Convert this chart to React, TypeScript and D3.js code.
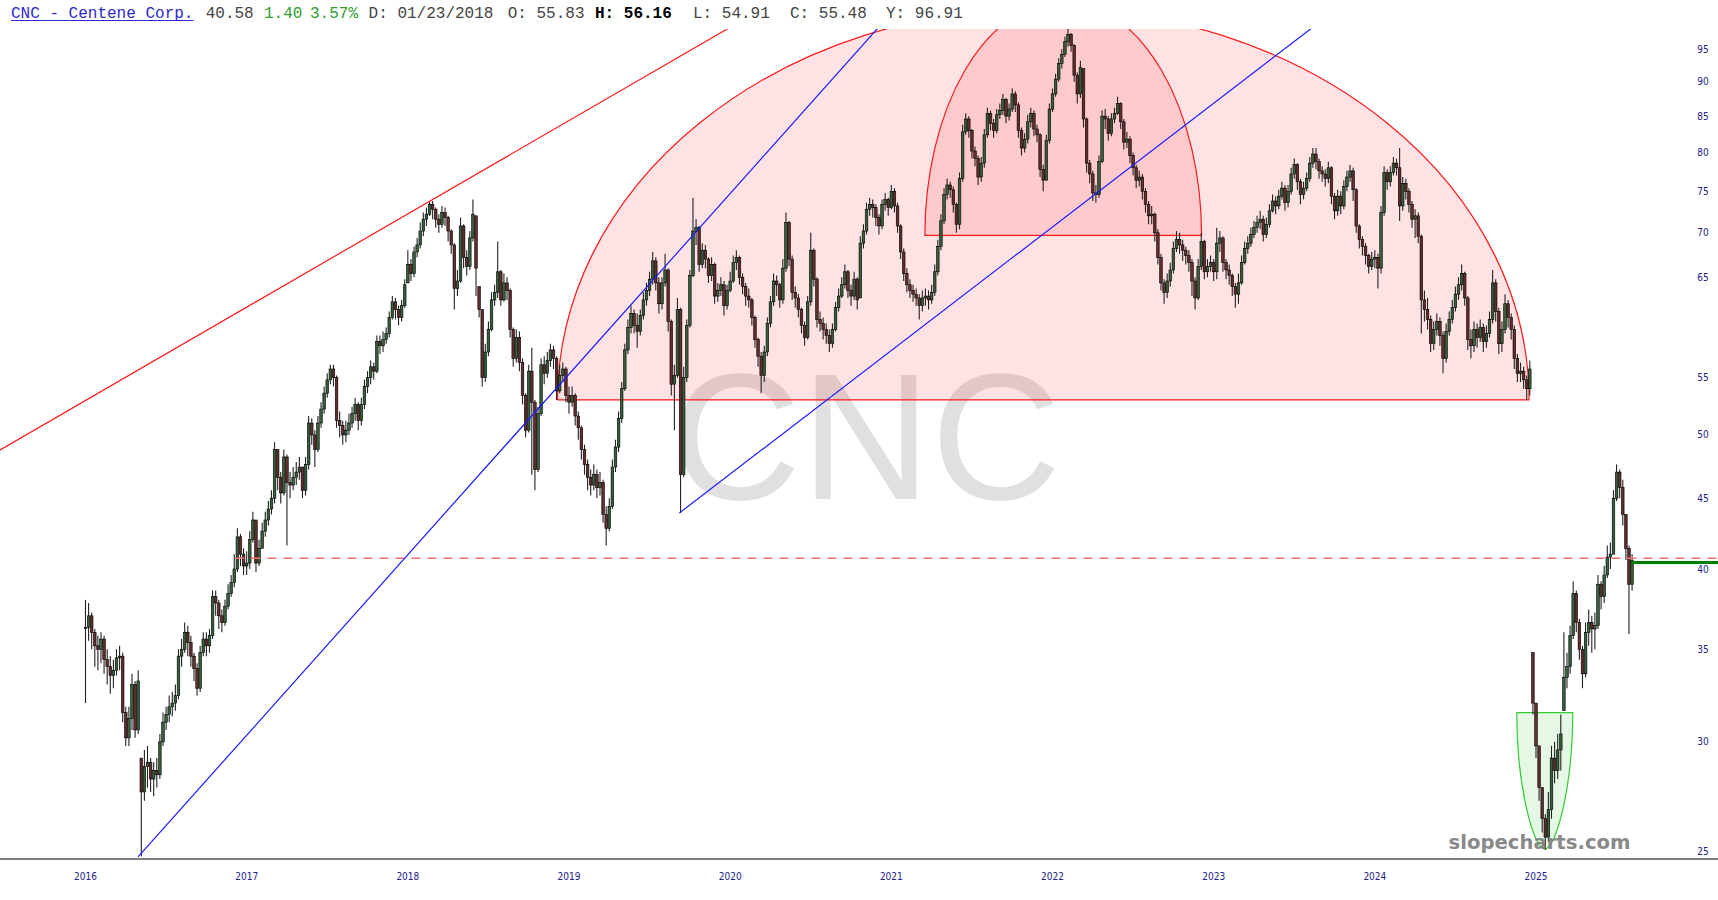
import React from 'react';
import * as d3 from 'd3';

// ---------- DATA (weekly bars: [high, low, close]) ----------
type Bar = [number, number, number];

const Y2016: Bar[] = [
  [38.0,32.0,36.3],[37.8,35.5,37.0],[37.2,35.0,36.0],[36.2,34.0,35.2],[35.8,33.8,35.0],[36.0,34.2,35.6],[35.8,33.6,34.4],[35.0,33.0,34.0],[34.6,32.5,33.5],[34.4,32.8,33.8],
  [35.0,33.5,34.5],[35.2,33.8,34.6],[34.8,31.0,31.5],[31.8,29.8,30.2],[31.8,29.8,31.2],[33.6,30.6,33.0],[33.2,30.2,30.6],[33.8,30.4,33.2],[29.2,24.8,27.6],[29.6,27.2,28.8],
  [29.8,27.8,29.0],[29.2,27.6,28.2],[29.0,27.4,28.6],[29.2,27.8,28.4],[30.4,28.2,30.0],[31.5,29.8,31.0],[31.8,30.6,31.4],[32.4,31.0,31.8],[32.6,31.3,32.0],[33.0,31.6,32.4],
  [35.0,32.2,34.6],[35.6,34.0,35.0],[36.6,34.8,36.0],[36.4,34.6,35.4],[35.8,34.0,34.6],[34.8,33.2,33.9],[34.2,32.4,32.8],[35.2,32.6,34.8],[36.0,34.6,35.6],[36.0,34.6,35.2],
  [36.2,34.8,35.8],[38.6,35.6,38.2],[38.6,37.0,37.8],[38.0,36.2,37.0],[37.4,36.0,36.6],[38.0,36.4,37.6],[39.0,37.4,38.4],[39.6,38.2,39.1],[41.0,38.8,40.0],[42.8,39.8,42.2],
  [42.4,40.2,41.0],[41.4,39.6,40.2],
];
const Y2017: Bar[] = [
  [41.2,39.6,40.4],[42.6,40.0,42.0],[44.0,41.8,43.4],[43.4,39.8,40.4],[42.0,40.2,41.4],[43.2,41.4,42.6],[44.0,42.2,43.4],[44.8,43.0,44.2],[45.6,43.8,45.0],[49.4,44.6,48.8],
  [48.8,45.6,46.6],[47.0,44.6,45.4],[48.8,45.2,48.2],[48.4,41.6,46.2],[47.0,45.0,46.0],[47.4,45.6,46.6],[47.8,46.0,47.0],[48.2,46.4,47.4],[47.4,45.0,45.6],[48.2,45.2,47.6],
  [51.6,47.2,51.0],[51.4,49.2,50.0],[50.4,47.4,48.8],[51.6,48.6,51.0],[52.8,50.6,52.2],[54.2,51.8,53.6],[55.4,53.2,54.8],[56.2,54.4,55.8],[56.2,54.2,55.0],[55.2,50.6,51.2],
  [52.0,49.8,50.8],[51.2,49.2,50.0],[51.2,49.4,50.4],[51.8,50.0,51.0],[52.4,50.6,51.8],[53.2,51.2,52.6],[52.8,50.4,51.2],[53.2,50.8,52.6],[54.8,52.2,54.2],[55.6,53.6,55.0],
  [56.6,54.4,56.0],[56.4,54.8,55.6],[59.0,55.4,58.4],[59.0,57.2,58.0],[59.4,57.4,58.6],[59.8,58.2,59.2],[61.4,58.8,60.8],[63.0,60.6,62.4],[62.8,60.6,61.6],[62.0,60.0,60.8],
  [62.6,60.4,62.0],[64.8,61.8,64.2],
];
const Y2018: Bar[] = [
  [68.0,64.4,66.4],[67.0,64.6,65.4],[68.4,65.0,67.8],[69.4,67.2,68.6],[71.2,68.2,70.2],[72.4,69.6,71.6],[73.0,70.8,72.2],[73.8,72.0,73.4],[73.8,71.6,72.8],[73.0,70.6,71.6],
  [72.2,70.0,71.0],[73.2,70.6,72.4],[73.0,70.8,71.8],[72.0,69.0,70.2],[70.4,67.6,68.6],[68.8,61.6,63.8],[65.8,63.0,64.6],[71.8,64.4,70.8],[71.0,66.0,67.2],[68.0,65.2,66.2],
  [70.2,65.8,69.4],[74.0,69.0,72.2],[72.0,63.0,66.0],[64.0,60.8,61.6],[61.6,54.2,55.0],[58.2,54.6,57.4],[60.4,57.0,59.6],[63.4,59.4,62.6],[64.2,62.0,63.4],[69.0,62.8,65.6],
  [65.8,62.0,62.6],[65.4,62.4,64.4],[65.0,62.6,63.6],[63.8,58.8,59.6],[59.8,56.0,56.8],[59.6,56.4,58.8],[59.4,55.6,56.4],[56.8,52.6,53.4],[53.6,49.8,50.4],[56.2,50.2,55.6],
  [57.8,46.8,52.8],[53.0,45.6,47.2],[52.4,47.0,51.8],[56.8,51.6,56.2],[57.0,54.4,55.4],[57.4,55.0,56.6],[58.2,56.0,57.6],[58.0,55.8,56.8],[57.0,53.0,53.8],[56.2,53.6,55.2],
  [56.4,54.6,55.8],[56.0,52.8,53.4],
];
const Y2019: Bar[] = [
  [54.2,51.8,52.8],[54.2,52.4,53.4],[53.6,50.8,51.6],[52.0,49.6,50.6],[50.8,48.0,48.8],[49.2,46.8,47.6],[48.0,45.6,46.6],[47.2,45.2,46.0],[47.6,45.6,46.8],[47.2,45.0,45.8],
  [47.0,45.2,46.2],[46.4,43.2,43.8],[44.4,41.6,42.8],[45.0,42.6,44.4],[48.0,44.2,47.4],[49.6,47.0,49.0],[52.0,48.6,51.4],[54.6,51.0,54.0],[58.2,53.8,57.6],[60.6,57.2,59.8],
  [62.0,59.2,61.2],[61.6,59.2,60.0],[61.2,57.8,59.4],[61.6,59.0,61.0],[63.4,60.6,62.6],[64.4,62.0,63.6],[65.6,63.0,64.8],[67.8,64.2,66.8],[67.2,63.6,64.4],[65.0,61.2,62.2],
  [65.0,61.6,64.4],[67.6,64.0,65.8],[66.0,59.4,60.4],[60.6,53.4,54.4],[56.2,50.4,55.2],[62.8,55.0,61.6],[61.8,43.9,46.8],[56.0,46.6,55.0],[60.6,54.6,60.0],[65.8,59.8,65.2],
  [74.2,65.0,70.2],[71.6,68.6,70.6],[70.8,65.6,66.4],[68.8,66.0,68.0],[68.6,66.0,67.0],[67.2,64.4,65.2],[67.2,64.6,66.4],[66.6,62.2,63.0],[64.4,62.4,63.6],[65.0,63.0,64.2],
  [64.6,61.0,62.0],[64.2,61.6,63.6],
];
const Y2020: Bar[] = [
  [65.6,63.4,64.6],[67.4,64.4,66.6],[68.0,65.8,67.2],[67.4,64.2,65.0],[65.4,63.2,64.0],[64.4,62.0,63.0],[63.8,61.8,62.6],[62.8,60.0,60.8],[61.0,57.8,58.6],[58.8,56.0,57.0],
  [57.4,53.6,55.2],[58.0,54.6,57.4],[60.8,57.0,60.2],[63.0,59.8,62.4],[65.4,62.0,64.6],[65.2,63.0,64.2],[64.4,61.8,62.6],[67.0,62.2,66.0],[72.4,65.6,71.2],[71.4,66.2,67.0],
  [67.4,62.6,63.4],[64.0,61.8,62.8],[63.2,60.8,61.6],[61.8,59.2,60.0],[60.4,58.0,58.8],[63.0,58.6,62.4],[70.0,62.0,68.0],[68.2,64.0,64.8],[65.0,59.8,60.6],[61.4,59.4,60.2],
  [60.8,58.6,59.6],[60.2,58.2,59.0],[59.6,57.4,58.2],[60.2,57.8,59.6],[62.4,59.4,61.8],[63.8,61.4,63.0],[65.0,62.8,64.2],[66.4,63.8,65.6],[65.8,62.8,63.6],[64.2,62.0,63.0],
  [65.6,62.6,64.8],[65.0,61.6,62.6],[69.6,62.8,68.8],[71.0,68.2,70.2],[73.6,69.8,72.8],[74.2,72.0,73.4],[74.0,71.8,73.0],[73.4,70.8,71.8],[72.2,69.8,70.8],[74.0,70.4,73.4],
  [74.8,72.6,74.0],[74.2,72.0,73.0],
];
const Y2021: Bar[] = [
  [75.8,72.8,75.0],[75.4,72.4,73.2],[73.6,70.0,70.8],[71.0,67.0,67.8],[68.2,64.6,65.4],[66.0,63.4,64.2],[64.8,62.8,63.6],[64.2,62.4,63.2],[63.8,62.0,62.8],[63.2,60.6,62.0],
  [63.6,61.4,62.8],[63.8,62.0,63.0],[63.6,61.6,62.6],[64.2,62.2,63.4],[66.4,63.0,65.6],[69.2,65.2,68.4],[72.2,68.0,71.4],[75.4,71.0,74.6],[76.6,74.0,75.8],[76.2,74.2,75.2],
  [75.6,72.4,73.4],[73.6,70.0,71.0],[77.4,70.4,76.6],[83.8,76.2,82.8],[85.4,82.4,84.6],[85.0,82.0,83.0],[83.2,79.2,80.2],[80.8,78.2,79.2],[79.6,75.8,76.8],[79.4,76.2,78.6],
  [83.2,78.0,82.4],[86.2,82.0,85.4],[85.8,83.0,84.0],[84.6,82.0,83.0],[86.0,82.6,85.2],[86.8,84.6,85.8],[88.2,85.2,87.4],[87.6,84.0,85.0],[86.8,84.4,86.0],[89.0,85.6,88.2],
  [88.6,85.6,86.6],[87.0,82.0,83.0],[83.4,79.6,80.6],[82.6,80.0,81.8],[85.2,81.2,84.2],[86.2,83.4,85.4],[85.8,82.2,83.2],[83.8,81.4,82.4],[82.6,76.8,77.8],[78.4,75.0,76.4],
  [82.4,76.4,81.6],[86.8,81.2,86.0],
];
const Y2022: Bar[] = [
  [89.0,85.6,88.2],[91.2,87.8,90.4],[93.6,90.0,92.8],[95.0,92.0,94.2],[97.0,93.8,96.2],[98.6,95.4,97.4],[97.6,94.6,95.6],[95.8,90.0,91.0],[91.4,86.8,88.2],[93.2,87.6,92.2],
  [92.0,83.4,84.6],[84.8,77.4,78.6],[79.0,76.0,77.2],[77.6,73.8,74.8],[75.8,73.6,74.6],[79.6,74.2,78.8],[85.8,78.6,85.0],[86.0,83.2,84.6],[85.0,81.6,82.6],[85.4,82.2,84.6],
  [86.2,84.0,85.4],[87.8,85.2,86.8],[87.0,83.2,84.2],[84.6,80.4,81.4],[82.8,80.6,81.8],[82.2,78.6,79.6],[80.0,77.0,78.0],[78.4,75.4,76.4],[77.6,75.6,76.8],[77.2,74.0,75.0],
  [75.4,72.4,73.4],[73.8,71.0,72.0],[73.2,71.0,72.2],[72.4,69.0,70.0],[70.4,66.4,67.2],[67.6,63.6,64.4],[64.8,62.2,63.4],[65.4,62.8,64.6],[66.6,64.0,65.8],[69.0,65.4,68.2],
  [70.2,67.8,69.2],[70.0,67.6,68.6],[69.2,66.8,68.0],[68.4,66.4,67.4],[68.0,65.6,66.6],[67.0,63.0,64.6],[65.0,61.6,62.8],[67.0,62.6,66.2],[70.0,65.8,69.0],[69.2,64.8,65.6],
  [67.0,65.0,66.2],[67.4,65.6,66.6],
];
const Y2023: Bar[] = [
  [67.0,64.6,65.6],[70.6,64.8,68.8],[70.2,67.8,69.4],[69.6,65.6,66.6],[67.0,64.8,65.8],[66.4,64.2,65.2],[65.4,63.0,64.0],[64.4,61.8,63.2],[65.4,62.2,64.4],[67.4,64.2,66.6],
  [69.0,66.4,68.2],[69.6,67.6,68.8],[70.6,68.4,69.8],[71.4,69.4,70.6],[72.0,70.0,71.2],[72.6,70.4,71.6],[72.0,69.0,69.8],[71.8,69.4,71.0],[73.4,70.6,72.6],[74.6,72.4,73.8],
  [74.4,72.2,73.2],[75.2,72.8,74.4],[76.2,74.0,75.4],[75.8,72.6,73.6],[75.8,73.0,75.0],[78.0,74.6,77.2],[79.2,76.6,78.4],[78.6,75.2,76.2],[76.6,73.4,74.6],[76.2,74.0,75.4],
  [77.4,75.0,76.6],[79.4,76.2,78.6],[80.6,78.0,79.8],[80.6,77.8,78.8],[79.2,76.6,77.6],[78.2,76.2,77.2],[77.8,75.6,76.6],[78.8,76.0,78.0],[78.2,73.4,74.4],[74.8,71.6,72.6],
  [75.2,72.0,74.4],[75.0,72.2,73.2],[76.4,72.8,75.6],[77.6,75.0,76.8],[78.4,76.2,77.6],[78.0,73.8,75.2],[75.4,70.0,70.8],[71.0,68.2,69.2],[69.6,67.4,68.4],[68.8,66.4,67.4],
  [67.6,65.4,66.2],[67.8,65.8,67.0],
];
const Y2024: Bar[] = [
  [68.0,66.0,67.2],[67.6,63.8,66.0],[73.2,65.4,72.4],[78.2,72.0,77.4],[77.8,75.2,76.2],[78.2,75.6,77.4],[79.4,77.0,78.6],[79.2,77.0,78.0],[80.6,71.4,73.2],[76.8,72.6,76.0],
  [76.6,74.0,75.0],[75.4,72.4,73.4],[73.8,70.6,71.6],[72.8,69.4,72.0],[72.4,68.8,69.6],[69.8,59.2,62.6],[63.6,60.4,61.6],[62.8,59.6,60.6],[61.0,57.4,58.2],[60.4,57.6,59.6],
  [61.2,59.0,60.4],[60.8,58.0,59.0],[59.4,55.4,56.8],[60.2,56.4,59.4],[61.4,59.0,60.6],[62.6,60.2,61.8],[64.0,61.4,63.2],[65.0,62.6,64.2],[66.4,63.6,65.4],[65.6,62.0,62.8],
  [63.0,57.6,58.6],[59.6,56.8,58.0],[60.4,57.4,59.6],[60.2,57.8,58.8],[60.6,58.4,59.8],[60.2,57.4,58.4],[60.0,57.8,59.2],[61.4,58.8,60.6],[65.8,60.2,64.4],[64.8,60.4,61.4],
  [61.8,57.2,58.2],[60.4,57.4,59.6],[63.2,59.2,62.2],[62.6,59.8,60.8],[61.2,58.6,59.6],[60.0,55.8,56.8],[57.2,54.6,55.4],[56.4,54.6,55.6],[56.0,54.0,54.8],[55.2,53.0,54.0],
  [56.6,53.4,55.8],[34.8,31.4,32.0],
];
const Y2025: Bar[] = [
  [32.0,29.2,29.8],[29.8,27.2,27.8],[27.8,25.8,26.4],[26.6,25.06,25.6],[27.6,25.4,26.8],[29.8,26.4,29.2],[30.0,28.0,28.6],[30.4,28.2,29.6],[31.4,28.6,30.4],[36.0,31.6,33.4],
  [34.8,32.8,34.0],[36.4,33.6,35.8],[39.2,35.6,38.4],[38.6,36.0,36.6],[36.8,34.4,35.0],[35.2,32.8,33.6],[36.6,33.4,36.0],[37.4,35.2,36.6],[37.0,34.8,36.2],[37.2,35.0,36.4],
  [39.6,36.2,39.0],[39.2,37.4,38.2],[40.2,37.8,39.6],[41.6,39.4,40.8],[41.8,40.0,41.0],[45.6,41.0,45.0],[47.6,44.8,47.0],[47.2,45.0,45.8],[46.4,43.0,43.8],[43.8,40.6,41.4],
  [41.6,35.9,39.0],[41.0,38.6,40.58],
];

const SERIES_YEARS = [2016, 2017, 2018, 2019, 2020, 2021, 2022, 2023, 2024, 2025];
const SERIES_BARS = [Y2016, Y2017, Y2018, Y2019, Y2020, Y2021, Y2022, Y2023, Y2024, Y2025];

const PRICE_TICKS = [25, 30, 35, 40, 45, 50, 55, 65, 70, 75, 80, 85, 90, 95];
const YEAR_TICKS = [2016, 2017, 2018, 2019, 2020, 2021, 2022, 2023, 2024, 2025];

// drawn annotations, in (year, price) units
const RED_TREND: [number, number][] = [[2015.408, 48.3], [2020.184, 101.4]];
const BLUE_TREND_1: [number, number][] = [[2016.326, 24.77], [2021.016, 101.4]];
const BLUE_TREND_2: [number, number][] = [[2019.684, 43.9], [2023.754, 101.4]];
const BIG_DOME = { t0: 2018.929, t1: 2024.957, base: 53.0, top: 101.8 };
const SMALL_DOME = { t0: 2021.208, t1: 2022.925, base: 69.7, top: 103.0 };
const GREEN_CUP = { t0: 2024.881, t1: 2025.228, rim: 31.5, bottom: 25.1 };
const LAST_PRICE = { t0: 2016.93, price: 40.72 };
const GREEN_LEVEL = { t0: 2025.59, price: 40.44 };

// ---------- CHART ----------
const W = 1718;
const H = 900;
const PLOT_TOP = 29;
const PLOT_BOTTOM = 859;

export default function App() {
  const x = d3.scaleLinear().domain([2016, 2025]).range([85.5, 1536]);
  const y = d3.scaleLog().domain([25, 95]).range([851.4, 49.3]);

  type Candle = { t: number; o: number; h: number; l: number; c: number };
  const candles: Candle[] = [];
  let prev: number | null = null;
  SERIES_YEARS.forEach((yr, k) => {
    SERIES_BARS[k].forEach((b, w) => {
      const [h, l, c] = b;
      const o = prev == null ? c : Math.min(h, Math.max(l, prev));
      candles.push({ t: yr + w / 52, o, h, l, c });
      prev = c;
    });
  });

  const line = d3
    .line<[number, number]>()
    .x((d) => x(d[0]))
    .y((d) => y(d[1]));

  const dome = (d: { t0: number; t1: number; base: number; top: number }) => {
    const x0 = x(d.t0);
    const x1 = x(d.t1);
    const cy = y(d.base);
    const rx = (x1 - x0) / 2;
    const ry = cy - y(d.top);
    return `M${x0},${cy} A${rx},${ry} 0 0 1 ${x1},${cy} Z`;
  };

  const cup = (() => {
    const gx0 = x(GREEN_CUP.t0);
    const gx1 = x(GREEN_CUP.t1);
    const gxc = (gx0 + gx1) / 2;
    const rx = (gx1 - gx0) / 2;
    const yt = y(GREEN_CUP.rim);
    const yb = y(GREEN_CUP.bottom);
    const hh = yb - yt;
    return `M${gx0},${yt} C${gx0},${yt + 0.55 * hh} ${gxc - 0.4 * rx},${yb} ${gxc},${yb} C${gxc + 0.4 * rx},${yb} ${gx1},${yt + 0.55 * hh} ${gx1},${yt} Z`;
  })();

  const mono = "'Liberation Mono', 'Courier New', monospace";
  const axisFont = "'Liberation Sans Narrow', 'DejaVu Sans Condensed', 'Liberation Sans', sans-serif";

  return (
    <svg
      width={W}
      height={H}
      style={{ position: 'absolute', left: 0, top: 0, background: '#fff' }}
      xmlns="http://www.w3.org/2000/svg"
    >
      <defs>
        <clipPath id="plot">
          <rect x={0} y={PLOT_TOP} width={W} height={PLOT_BOTTOM - PLOT_TOP} />
        </clipPath>
      </defs>
      <rect x={0} y={0} width={W} height={H} fill="#ffffff" />

      {/* header */}
      <text y={18} fontFamily={mono} fontSize={16} fill="#444">
        <tspan x={11} fill="#2b2bd0">CNC - Centene Corp.</tspan>
        <tspan x={205.7}>40.58</tspan>
        <tspan x={264} fill="#2f9e2f">1.40</tspan>
        <tspan x={310} fill="#2f9e2f">3.57%</tspan>
        <tspan x={368.6}>D: 01/23/2018</tspan>
        <tspan x={507.7}>O: 55.83</tspan>
        <tspan x={595} fill="#000" fontWeight="bold">H: 56.16</tspan>
        <tspan x={693}>L: 54.91</tspan>
        <tspan x={790}>C: 55.48</tspan>
        <tspan x={886}>Y: 96.91</tspan>
      </text>
      <line x1={11} x2={193.5} y1={20.5} y2={20.5} stroke="#2b2bd0" strokeWidth={1} />

      <g clipPath="url(#plot)">
        {/* watermark */}
        <text
          x={866}
          y={499}
          textAnchor="middle"
          fontFamily="'Liberation Sans', Arial, sans-serif"
          fontSize={180}
          fill="#e0e0e0"
        >
          CNC
        </text>

        {/* domes */}
        <path d={dome(BIG_DOME)} fill="rgba(255,0,10,0.11)" stroke="#ff1a1a" strokeWidth={1.2} />
        <path d={dome(SMALL_DOME)} fill="rgba(255,0,10,0.11)" stroke="#ff1a1a" strokeWidth={1.2} />

        {/* green cup */}
        <path d={cup} fill="rgba(40,200,40,0.12)" stroke="#33cc33" strokeWidth={1.2} />

        {/* candles */}
        <g>
          {candles.map((d, i) => {
            const cx = x(d.t);
            const top = y(Math.max(d.o, d.c));
            const bot = y(Math.min(d.o, d.c));
            const up = d.c >= d.o;
            return (
              <g key={i}>
                <line x1={cx} x2={cx} y1={y(d.h)} y2={y(d.l)} stroke="#222" strokeWidth={1.1} />
                <rect
                  x={cx - 1.3}
                  y={top}
                  width={2.6}
                  height={Math.max(1.2, bot - top)}
                  fill={up ? '#35603a' : '#642c2c'}
                  stroke="#000"
                  strokeWidth={0.6}
                />
              </g>
            );
          })}
        </g>

        {/* last price dashed line */}
        <line
          x1={x(LAST_PRICE.t0)}
          x2={W}
          y1={y(LAST_PRICE.price)}
          y2={y(LAST_PRICE.price)}
          stroke="#ff6b6b"
          strokeWidth={1.5}
          strokeDasharray="9,7"
        />

        {/* trend lines */}
        <path d={line(RED_TREND) || ''} stroke="#ff1a1a" strokeWidth={1.2} fill="none" />
        <path d={line(BLUE_TREND_1) || ''} stroke="#1a1aff" strokeWidth={1.2} fill="none" />
        <path d={line(BLUE_TREND_2) || ''} stroke="#1a1aff" strokeWidth={1.2} fill="none" />

        {/* green level */}
        <line
          x1={x(GREEN_LEVEL.t0)}
          x2={W}
          y1={y(GREEN_LEVEL.price)}
          y2={y(GREEN_LEVEL.price)}
          stroke="#008000"
          strokeWidth={3}
        />
      </g>

      {/* bottom axis line */}
      <line x1={0} x2={W} y1={PLOT_BOTTOM} y2={PLOT_BOTTOM} stroke="#808080" strokeWidth={2} />

      {/* y labels */}
      {PRICE_TICKS.map((v) => (
        <text
          key={v}
          x={1703}
          y={y(v)}
          dy="0.35em"
          textAnchor="middle"
          fontFamily={axisFont}
          fontSize={10}
          fill="#22228b"
        >
          {v}
        </text>
      ))}

      {/* x labels */}
      {YEAR_TICKS.map((yr) => (
        <text
          key={yr}
          x={x(yr)}
          y={880}
          textAnchor="middle"
          fontFamily={axisFont}
          fontSize={10}
          fill="#22228b"
        >
          {yr}
        </text>
      ))}

      {/* site watermark */}
      <text
        x={1539.5}
        y={849}
        textAnchor="middle"
        fontFamily="'DejaVu Sans', Verdana, sans-serif"
        fontWeight="bold"
        fontSize={19}
        textLength={182}
        lengthAdjust="spacingAndGlyphs"
        fill="#808080"
        opacity={0.92}
      >
        slopecharts.com
      </text>
    </svg>
  );
}
